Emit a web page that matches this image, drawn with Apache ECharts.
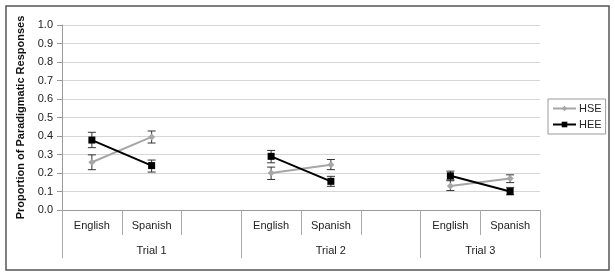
<!DOCTYPE html>
<html><head><meta charset="utf-8">
<script src="https://cdn.jsdelivr.net/npm/echarts@6/dist/echarts.min.js"></script>
<style>html,body{margin:0;padding:0;background:#fff}#c{width:615px;height:277px}</style>
</head><body><div id="c"></div>
<script>
const categories = ['English','Spanish','','English','Spanish','','English','Spanish'];
const trialLabels = ['Trial 1','Trial 2','Trial 3'];
const hse     = [0.258, 0.395, null, 0.200, 0.245, null, 0.130, 0.170];
const hseLow  = [0.218, 0.362, null, 0.165, 0.218, null, 0.105, 0.148];
const hseHigh = [0.298, 0.427, null, 0.232, 0.273, null, 0.163, 0.190];
const hee     = [0.378, 0.240, null, 0.290, 0.155, null, 0.185, 0.100];
const heeLow  = [0.337, 0.205, null, 0.255, 0.128, null, 0.158, 0.082];
const heeHigh = [0.420, 0.270, null, 0.322, 0.182, null, 0.210, 0.122];
const yTicks = [0,0.1,0.2,0.3,0.4,0.5,0.6,0.7,0.8,0.9,1.0];

// group boundaries derived from the blank categories
const bounds = [0];
categories.forEach((c,i)=>{ if(c==='') bounds.push(i+1); });
bounds.push(categories.length);
const trialCenters = trialLabels.map((t,i)=>(bounds[i]+bounds[i+1])/2);

function errData(lo, hi){
  const out=[];
  lo.forEach((v,i)=>{ if(v!=null) out.push([i, v, hi[i]]); });
  return out;
}
function renderErr(params, api){
  const x = api.value(0);
  const lo = api.coord([x, api.value(1)]);
  const hi = api.coord([x, api.value(2)]);
  const w = 4;
  const st = {stroke:'#333', lineWidth:1};
  return {type:'group', children:[
    {type:'line', shape:{x1:lo[0],y1:lo[1],x2:hi[0],y2:hi[1]}, style:st},
    {type:'line', shape:{x1:lo[0]-w,y1:lo[1],x2:lo[0]+w,y2:lo[1]}, style:st},
    {type:'line', shape:{x1:hi[0]-w,y1:hi[1],x2:hi[0]+w,y2:hi[1]}, style:st}
  ]};
}
const font = 'Liberation Sans, Arial, sans-serif';
const chart = echarts.init(document.getElementById('c'), null, {renderer:'canvas'});
chart.setOption({
  animation:false,
  textStyle:{fontFamily:font},
  graphic:[{type:'rect', shape:{x:6,y:6,width:603,height:264}, style:{fill:'none', stroke:'#555', lineWidth:1.5}, z:0}],
  grid:{left:62, right:75, top:25, bottom:67},
  legend:{
    orient:'vertical', left:548, top:99,
    data:['HSE','HEE'],
    borderColor:'#999', borderWidth:1, padding:[4,4,4,4],
    itemWidth:23, itemHeight:7, itemGap:5,
    textStyle:{fontFamily:font, fontSize:11, color:'#222', padding:[0,0,0,-2]}
  },
  xAxis:[{
    type:'category', data:categories, boundaryGap:true,
    axisLine:{lineStyle:{color:'#999'}},
    axisTick:{show:true, interval:0, length:25, lineStyle:{color:'#aaa'}},
    axisLabel:{interval:0, margin:10, fontFamily:font, fontSize:11, color:'#222'},
    splitLine:{show:false}
  },{
    type:'value', min:0, max:categories.length, position:'bottom',
    axisLine:{show:false},
    axisTick:{show:true, length:48, customValues:bounds, lineStyle:{color:'#aaa'}},
    axisLabel:{margin:35, customValues:trialCenters, fontFamily:font, fontSize:11, color:'#222',
      formatter:function(v){ const k = trialCenters.findIndex(c=>Math.abs(c-v)<1e-6); return k>=0?trialLabels[k]:''; }},
    splitLine:{show:false}
  }],
  yAxis:{
    type:'value', min:yTicks[0], max:yTicks[yTicks.length-1], interval:0.1,
    name:'Proportion of Paradigmatic Responses', nameLocation:'middle', nameGap:34,
    nameTextStyle:{fontFamily:font, fontSize:11, fontWeight:'bold', color:'#111'},
    axisLine:{show:true, lineStyle:{color:'#999'}},
    axisTick:{show:true, length:5, lineStyle:{color:'#999'}},
    axisLabel:{margin:9, fontFamily:font, fontSize:11, color:'#222', formatter:v=>v.toFixed(1)},
    splitLine:{lineStyle:{color:'#d6d6d6'}}
  },
  series:[
    {type:'custom', name:'hseErr', xAxisIndex:0, renderItem:renderErr, data:errData(hseLow,hseHigh), z:1, silent:true},
    {type:'custom', name:'heeErr', xAxisIndex:0, renderItem:renderErr, data:errData(heeLow,heeHigh), z:1, silent:true},
    {type:'line', name:'HSE', xAxisIndex:0, data:hse, connectNulls:false, symbol:'diamond', symbolSize:7,
      itemStyle:{color:'#a6a6a6'}, lineStyle:{color:'#a6a6a6', width:2}, z:3},
    {type:'line', name:'HEE', xAxisIndex:0, data:hee, connectNulls:false, symbol:'rect', symbolSize:7,
      itemStyle:{color:'#000'}, lineStyle:{color:'#000', width:2}, z:4}
  ]
});
</script></body></html>
